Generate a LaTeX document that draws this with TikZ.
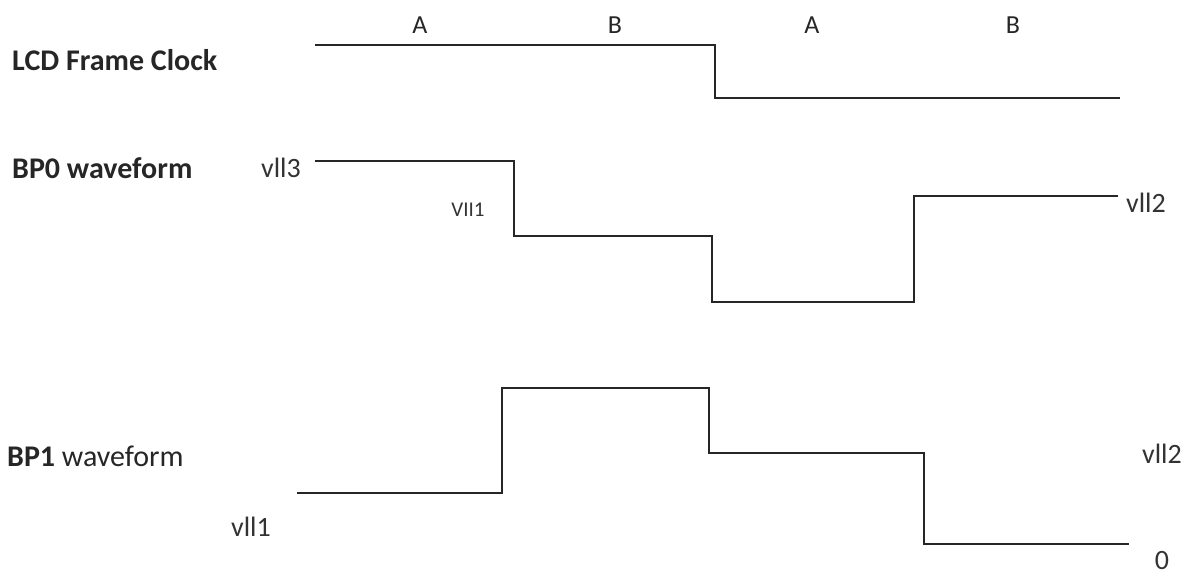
\documentclass[tikz,border=0pt]{standalone}
\usepackage{fontspec}
\setmainfont{Carlito}
\begin{document}
\begin{tikzpicture}[x=1pt,y=-1pt,
  wave/.style={line width=1.6pt,draw=black!85},
  title/.style={anchor=west,inner sep=0pt,font=\fontsize{30}{34}\selectfont\bfseries,text=black!85},
  lvl/.style={inner sep=0pt,font=\fontsize{28}{32}\selectfont,text=black!80},
  phase/.style={inner sep=0pt,font=\fontsize{26}{30}\selectfont,text=black!85}]
\useasboundingbox (0,0) rectangle (1193,576);
% titles
\node[title] (t1) at (12,60) {LCD Frame Clock};
\node[title] (t2) at (12,168) {BP0 waveform};
\node[title] (t3) at (7,456) {BP1 \mdseries waveform};
% phase labels
\node[phase] (pa1) at (420,25) {A};
\node[phase] (pb1) at (615,25) {B};
\node[phase] (pa2) at (812,25) {A};
\node[phase] (pb2) at (1013,25) {B};
% clock
\draw[wave] (315,45) -- (715,45) -- (715,98) -- (1120,98);
% BP0
\draw[wave] (315,161) -- (514,161) -- (514,236) -- (712,236) -- (712,302) -- (914,302) -- (914,196) -- (1118,196);
% BP1
\draw[wave] (297,493) -- (502,493) -- (502,388) -- (709,388) -- (709,453) -- (924,453) -- (924,544) -- (1129,544);
% level labels
\node[lvl] (l1) at (281,168) {vll3};
\node[lvl,font=\fontsize{21}{24}\selectfont] (l2) at (468,210) {VII1};
\node[lvl] (l3) at (1146,203) {vll2};
\node[lvl] (l4) at (251,527) {vll1};
\node[lvl] (l5) at (1162,454) {vll2};
\node[lvl] (l6) at (1162,561) {0};
\end{tikzpicture}
\end{document}
